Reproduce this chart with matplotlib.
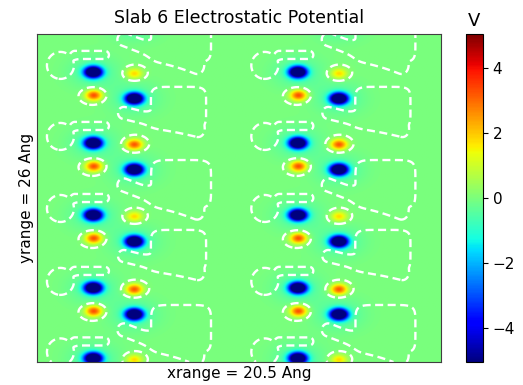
import numpy as np
import matplotlib.pyplot as plt

plt.rcParams['lines.dashed_pattern'] = [3.4, 1.9]

# slab cell (Angstrom)
x_range = 20.5
y_range = 26.0
cell_shift_x = 10.37      # periodic image of the molecule column along x
column_x = 2.84           # x of the left (negative) site of each molecule

# molecules stacked along y, anchor = upper-left negative site, y from bottom
group_y = [28.9, 22.99, 17.36, 11.65, 5.87, 0.28]
group_kind = ['B', 'A', 'B', 'A', 'B', 'A']

# charge sites relative to the anchor
site_dx = [0.0, 2.08, 0.03, 2.08]
site_dy = [0.0, -0.12, -1.84, -2.10]
site_peak = {'A': [-9.0, 1.9, 3.4, -9.0],
             'B': [-9.0, 3.3, 3.4, -9.0]}
neg_sigma = 0.30
pos_sigma = 0.30
halo_peak = -0.6
halo_sigma = 0.9

# isosurface outline pieces relative to the anchor
lobe_c = [(-1.65, 0.52)]
lobe_r = [(0.685, 1.07)]
tail_seg = [(-0.91, 1.35, 0.61, 1.35)]
tail_r = [(0.20, 0.32)]
box_c = {'A': (4.34, -2.81), 'B': (4.47, -3.25)}
box_r = {'A': (1.40, 1.63), 'B': (1.52, 1.90)}
foot_seg = {'A': (1.57, -3.25, 5.33, -4.68), 'B': (1.57, -3.33, 5.28, -5.55)}
foot_r = {'A': (0.30, 0.48), 'B': (0.33, 0.52)}

ring_level = 0.08
shell_level = 0.5


def gauss(X, Y, x0, y0, s):
    return np.exp(-((X - x0)**2 + (Y - y0)**2) / (2 * s**2))


def ellipse(X, Y, x0, y0, rx, ry, n=2):
    u = np.abs((X - x0) / rx)
    v = np.abs((Y - y0) / ry)
    if n == 2:
        return 2.0 ** (-(u**2 + v**2)**2)
    return 2.0 ** (-(u**n + v**n))


def capsule(X, Y, x0, y0, x1, y1, rx, ry):
    ux, uy = (X - x0) / rx, (Y - y0) / ry
    vx, vy = (x1 - x0) / rx, (y1 - y0) / ry
    t = np.clip((ux * vx + uy * vy) / (vx**2 + vy**2), 0, 1)
    d2 = (ux - t * vx)**2 + (uy - t * vy)**2
    return 2.0 ** (-d2**2)


x = np.linspace(0, x_range, 821)
y = np.linspace(0, y_range, 1041)
X, Y = np.meshgrid(x, y)

V = np.zeros_like(X)
shell = np.zeros_like(X)
for col in [0.0, cell_shift_x]:
    ax0 = column_x + col
    for gy, kind in zip(group_y, group_kind):
        for dx, dy, pk in zip(site_dx, site_dy, site_peak[kind]):
            s = neg_sigma if pk < 0 else pos_sigma
            V += pk * gauss(X, Y, ax0 + dx, gy + dy, s)
            if pk < 0:
                V += halo_peak * gauss(X, Y, ax0 + dx, gy + dy, halo_sigma)
        for (cx, cy), (rx, ry) in zip(lobe_c, lobe_r):
            shell += ellipse(X, Y, ax0 + cx, gy + cy, rx, ry)
        for (x0, y0, x1, y1), (rx, ry) in zip(tail_seg, tail_r):
            shell += capsule(X, Y, ax0 + x0, gy + y0, ax0 + x1, gy + y1, rx, ry)
        cx, cy = box_c[kind]
        rx, ry = box_r[kind]
        shell += ellipse(X, Y, ax0 + cx, gy + cy, rx, ry, n=6)
        x0, y0, x1, y1 = foot_seg[kind]
        rx, ry = foot_r[kind]
        shell += capsule(X, Y, ax0 + x0, gy + y0, ax0 + x1, gy + y1, rx, ry)

fig = plt.figure(figsize=(5.23, 3.85), dpi=100)
ax = fig.add_axes([37 / 523, 23 / 385, 404 / 523, 328 / 385])
cax = fig.add_axes([466 / 523, 23 / 385, 17 / 523, 328 / 385])

im = ax.imshow(V, origin='lower', extent=(0, x_range, 0, y_range),
               cmap='jet', vmin=-5.05, vmax=5.05, aspect='auto',
               interpolation='bilinear')
ax.contour(X, Y, shell, levels=[shell_level], colors='white',
           linestyles='dashed', linewidths=1.7)
ax.contour(X, Y, V, levels=[ring_level], colors='white',
           linestyles='dashed', linewidths=1.7)

ax.set_xticks([])
ax.set_yticks([])
for sp in ax.spines.values():
    sp.set_color('#404040')
ax.set_title('Slab 6 Electrostatic Potential', fontsize=12.5, pad=8)
ax.set_xlabel('xrange = 20.5 Ang', fontsize=11, labelpad=3)
ax.set_ylabel('yrange = 26 Ang', fontsize=11, labelpad=2)

cb = fig.colorbar(im, cax=cax, ticks=[-4, -2, 0, 2, 4])
cb.ax.tick_params(labelsize=11)
cb.ax.set_title('V', fontsize=13, pad=6)

fig.savefig('out.png', dpi=100)
